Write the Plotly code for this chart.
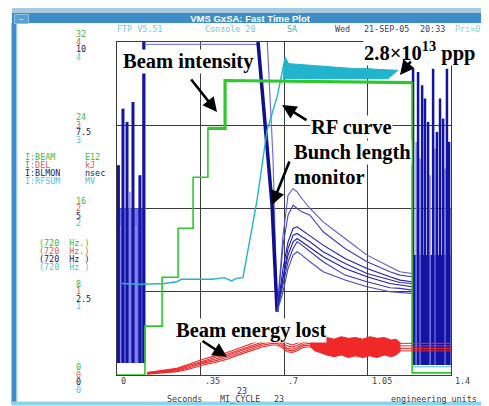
import plotly.graph_objects as go

W, H = 489, 406
OFF = 8  # page body margin offset

def px(x):
    return (x - OFF) / W

def py(y):
    return 1 - (y - OFF) / H

# ---------------- data ----------------
x_ticks = [0, 0.35, 0.7, 1.05, 1.4]
x_tick_text = ["0", ".35", ".7", "1.05", "1.4"]

beam_ticks = ["0", "8", "16", "24", "32"]
del_ticks = ["0", "1", "2", "3", "4"]
blmon_ticks = ["0", "2.5", "5", "7.5", "10"]
rf_ticks = ["0", "1", "2", "3", "4"]

# I:BEAM (E12)
beam_t = [0.0, 0.117, 0.117, 0.189, 0.189, 0.256, 0.256, 0.319, 0.319, 0.381, 0.381,
          0.453, 0.453, 1.237, 1.237, 1.4]
beam_v = [0.0, 0.0, 4.7, 4.7, 9.4, 9.4, 14.1, 14.1, 19.0, 19.0, 23.7, 23.7, 28.3, 28.1,
          0.2, 0.2]
beam_flat_t = [0.381, 0.453, 0.453, 1.237]
beam_flat_v = [23.7, 23.7, 28.3, 28.1]

# I:RFSUM (MV)
rf_t = [0.02, 0.10, 0.20, 0.25, 0.27, 0.40, 0.45, 0.48, 0.50, 0.528, 0.587, 0.629, 0.671, 0.696, 0.704]
rf_v = [1.10, 1.09, 1.10, 1.12, 1.15, 1.15, 1.17, 1.13, 1.16, 1.17, 2.10, 2.94, 3.34, 3.66, 3.80]
rf_band_t = [0.696, 0.704, 0.72, 0.76, 0.80, 0.85, 0.90, 0.95, 1.00, 1.05, 1.10, 1.15,
             1.178, 1.136, 0.696]
rf_band_v = [3.55, 3.82, 3.74, 3.73, 3.72, 3.71, 3.70, 3.69, 3.68, 3.68, 3.67, 3.66,
             3.66, 3.56, 3.56]
rf_right_t = [1.237, 1.4]
rf_right_v = [0.1, 0.1]

# I:BLMON (nsec)
bl_top_t = [0.117, 0.60]
bl_top_v = [9.93, 9.93]
bl_desc_t = [0.591, 0.62, 0.65, 0.671]
bl_desc_v = [10.0, 7.5, 5.1, 1.9]
bl_desc2_t = [0.630, 0.654, 0.671]
bl_desc2_v = [10.0, 6.5, 1.9]
bl_t = [0.671, 0.696, 0.717, 0.738, 0.755, 0.775, 0.809, 0.864, 0.956, 1.048, 1.144, 1.186, 1.237]
bl_curves = [
    [1.9, 4.2, 5.4, 5.6, 5.5, 5.3, 5.0, 4.6, 4.1, 3.6, 3.25, 3.1, 3.05],
    [1.9, 3.9, 4.8, 5.1, 5.0, 4.9, 4.8, 4.3, 3.8, 3.4, 3.1, 3.0, 2.95],
    [1.9, 3.2, 4.0, 4.4, 4.45, 4.35, 4.2, 3.9, 3.5, 3.2, 2.95, 2.85, 2.8],
    [1.9, 3.0, 3.8, 4.2, 4.25, 4.15, 4.0, 3.7, 3.35, 3.05, 2.85, 2.78, 2.75],
    [1.9, 2.9, 3.6, 4.0, 4.1, 4.0, 3.85, 3.55, 3.2, 2.95, 2.75, 2.7, 2.65],
    [1.9, 2.7, 3.4, 3.8, 4.0, 3.9, 3.7, 3.4, 3.0, 2.8, 2.62, 2.6, 2.55],
    [1.9, 2.5, 3.2, 3.6, 3.7, 3.6, 3.4, 3.1, 2.85, 2.65, 2.5, 2.48, 2.45],
]
bl_curve_colors = ["#5a5ad0", "#4040c0", "#1c1ca8", "#2626b0", "#1c1ca8", "#3434b8", "#4a4ac4"]

left_fill_t = [0.0, 0.0, 0.117, 0.117]
left_fill_v = [0.36, 5.0, 5.0, 0.36]
left_dark_t = [0.006, 0.025, 0.042, 0.067, 0.096, 0.112]
left_dark_v = [6.3, 8.0, 7.6, 8.2, 6.0, 10.0]
left_light_t = [0.013, 0.034, 0.054, 0.080, 0.117]
left_light_v = [4.5, 5.0, 5.5, 4.5, 10.0]
right_fill_t = [1.237, 1.237, 1.4, 1.4]
right_fill_v = [0.3, 3.6, 3.6, 0.3]
right_dark_t = [1.241, 1.262, 1.279, 1.291, 1.304, 1.325, 1.341, 1.354, 1.367, 1.383, 1.392]
right_dark_v = [9.2, 9.1, 8.7, 8.3, 7.6, 9.2, 7.3, 8.3, 7.7, 9.2, 7.0]
right_light_t = [1.254, 1.270, 1.312, 1.333, 1.375, 1.396]
right_light_v = [7.0, 6.5, 6.0, 6.8, 6.2, 5.0]

# I:DEL (kJ)
del_t = [0.126, 0.20, 0.251, 0.30, 0.36, 0.41, 0.461, 0.528, 0.58, 0.612, 0.65, 0.671,
         0.692, 0.713, 0.735, 0.755, 0.78, 0.809]
del_curves = [
    [0.03, 0.06, 0.08, 0.13, 0.19, 0.23, 0.27, 0.34, 0.40, 0.43, 0.45, 0.45, 0.42, 0.38, 0.36, 0.38, 0.42, 0.43],
    [0.025, 0.05, 0.07, 0.115, 0.17, 0.21, 0.25, 0.32, 0.37, 0.40, 0.42, 0.42, 0.39, 0.35, 0.335, 0.355, 0.39, 0.40],
    [0.02, 0.045, 0.06, 0.10, 0.155, 0.19, 0.23, 0.30, 0.35, 0.38, 0.40, 0.40, 0.37, 0.32, 0.31, 0.33, 0.37, 0.38],
    [0.015, 0.035, 0.05, 0.085, 0.14, 0.17, 0.21, 0.28, 0.33, 0.36, 0.38, 0.38, 0.35, 0.30, 0.29, 0.31, 0.35, 0.36],
    [0.01, 0.03, 0.04, 0.07, 0.12, 0.15, 0.19, 0.26, 0.31, 0.34, 0.36, 0.36, 0.33, 0.28, 0.27, 0.29, 0.33, 0.34],
]
del_band_t = [0.809, 0.83, 0.86, 0.88, 0.91, 0.94, 0.97, 1.00, 1.03, 1.06, 1.09, 1.12, 1.15, 1.17, 1.186,
              1.186, 1.17, 1.15, 1.12, 1.09, 1.06, 1.03, 1.00, 0.97, 0.94, 0.91, 0.88, 0.86, 0.83, 0.809]
del_band_v = [0.43, 0.46, 0.43, 0.45, 0.43, 0.46, 0.44, 0.45, 0.43, 0.46, 0.44, 0.45, 0.42, 0.43, 0.39,
              0.28, 0.24, 0.22, 0.24, 0.21, 0.23, 0.21, 0.23, 0.21, 0.24, 0.22, 0.24, 0.26, 0.29, 0.34]
del_flat_t = [1.186, 1.4]
del_flat_levels = [0.38, 0.35, 0.32, 0.29]

# ---------------- figure ----------------
NAVY = "#1414a4"
LAV = "#7070e0"
GREEN = "#2ec82e"
CYAN = "#22b4cc"
RED = "#f02828"


def spikes(ts, vs, base):
    xs, ys = [], []
    for t, v in zip(ts, vs):
        xs += [t, t, None]
        ys += [base, v, None]
    return xs, ys


fig = go.Figure()

fig.add_trace(go.Scatter(x=left_fill_t, y=left_fill_v, fill="toself", mode="none",
                         fillcolor=LAV, yaxis="y"))
xs, ys = spikes(left_light_t, left_light_v, 0.36)
fig.add_trace(go.Scatter(x=xs, y=ys, mode="lines", line=dict(color="#8a8aec", width=1.5)))
xs, ys = spikes(left_dark_t, left_dark_v, 0.36)
fig.add_trace(go.Scatter(x=xs, y=ys, mode="lines", line=dict(color=NAVY, width=3)))
fig.add_trace(go.Scatter(x=right_fill_t, y=right_fill_v, fill="toself", mode="none",
                         fillcolor=NAVY))
xs, ys = spikes(right_light_t, right_light_v, 0.3)
fig.add_trace(go.Scatter(x=xs, y=ys, mode="lines", line=dict(color="#8a8aec", width=1.5)))
xs, ys = spikes(right_dark_t, right_dark_v, 0.3)
fig.add_trace(go.Scatter(x=xs, y=ys, mode="lines", line=dict(color=NAVY, width=2.5)))
fig.add_trace(go.Scatter(x=bl_top_t, y=bl_top_v, mode="lines", line=dict(color="#8080e6", width=1.2)))
fig.add_trace(go.Scatter(x=bl_desc2_t, y=bl_desc2_v, mode="lines", line=dict(color="#7070dc", width=1.2)))
fig.add_trace(go.Scatter(x=bl_desc_t, y=bl_desc_v, mode="lines", line=dict(color="#10108c", width=3.5)))
for vals, col in zip(bl_curves, bl_curve_colors):
    fig.add_trace(go.Scatter(x=bl_t, y=vals, mode="lines", line=dict(color=col, width=1.1)))

fig.add_trace(go.Scatter(x=rf_t, y=rf_v, mode="lines", line=dict(color=CYAN, width=1.4), yaxis="y2"))
fig.add_trace(go.Scatter(x=rf_band_t, y=rf_band_v, fill="toself", mode="lines",
                         line=dict(color=CYAN, width=1), fillcolor=CYAN, yaxis="y2"))
fig.add_trace(go.Scatter(x=rf_right_t, y=rf_right_v, mode="lines",
                         line=dict(color="#7fd8ea", width=1.5), yaxis="y2"))

fig.add_trace(go.Scatter(x=beam_t, y=beam_v, mode="lines", line=dict(color=GREEN, width=1.6),
                         yaxis="y3"))
fig.add_trace(go.Scatter(x=beam_flat_t, y=beam_flat_v, mode="lines", line=dict(color=GREEN, width=3.2),
                         yaxis="y3"))

for vals in del_curves:
    fig.add_trace(go.Scatter(x=del_t, y=vals, mode="lines", line=dict(color=RED, width=1.1),
                             yaxis="y4"))
fig.add_trace(go.Scatter(x=del_band_t, y=del_band_v, fill="toself", mode="lines",
                         line=dict(color=RED, width=1), fillcolor=RED, yaxis="y4"))
for lv in del_flat_levels:
    fig.add_trace(go.Scatter(x=del_flat_t, y=[lv, lv], mode="lines",
                             line=dict(color=RED, width=1), yaxis="y4"))

dom_x = [px(117), px(451)]
dom_y = [py(375), py(42)]
GRID = "#3c3c3c"

fig.update_layout(
    width=W, height=H, margin=dict(l=0, r=0, t=0, b=0),
    paper_bgcolor="white", plot_bgcolor="white", showlegend=False,
    xaxis=dict(domain=dom_x, range=[0, 1.4], tickvals=x_ticks, showticklabels=False,
               showgrid=True, gridcolor=GRID, gridwidth=1, zeroline=False,
               showline=True, mirror=True, linecolor=GRID, linewidth=1, ticks=""),
    yaxis=dict(domain=dom_y, range=[0, 10], tickvals=[0, 2.5, 5, 7.5, 10], showticklabels=False,
               showgrid=True, gridcolor=GRID, gridwidth=1, zeroline=False,
               showline=True, mirror=True, linecolor=GRID, linewidth=1, ticks=""),
    yaxis2=dict(overlaying="y", range=[0, 4], visible=False),
    yaxis3=dict(overlaying="y", range=[0, 32], visible=False),
    yaxis4=dict(overlaying="y", range=[0, 4], visible=False),
)

MONO = "DejaVu Sans Mono"
FS = 8.4
ann = []

# window chrome (title bar drawn as boxed annotations)
ann.append(dict(x=px(12), y=py(8), xref="paper", yref="paper", xanchor="left", yanchor="top",
                width=477, height=5, bgcolor="#a9c9e0", borderpad=0, borderwidth=0,
                text="&nbsp;", showarrow=False, font=dict(size=4, color="#a9c9e0")))
ann.append(dict(x=px(12), y=py(13), xref="paper", yref="paper", xanchor="left", yanchor="top",
                width=477, height=10, bgcolor="#3f8dc6", borderpad=0, borderwidth=0,
                align="center", text="<b>VMS GxSA: Fast Time Plot</b>", showarrow=False,
                font=dict(family="Liberation Sans", size=9.5, color="white")))
ann.append(dict(x=px(14), y=py(14), xref="paper", yref="paper", xanchor="left", yanchor="top",
                width=13, height=8, bgcolor="#5a9fd0", bordercolor="#8cc0e4", borderwidth=1,
                borderpad=0, text="−", showarrow=False,
                font=dict(family="Liberation Sans", size=8, color="white")))

label_sets = [(beam_ticks, "#3cbc3c", 8), (del_ticks, "#e05a5a", 0.5),
              (blmon_ticks, "#20205e", -7), (rf_ticks, "#5cc0d8", -14.5)]
for ticks, col, shift in label_sets:
    for i, txt in enumerate(ticks):
        ann.append(dict(x=px(74), xref="paper", xanchor="left", y=i * 2.5, yref="y",
                        yanchor="middle", yshift=shift, text=txt, showarrow=False,
                        font=dict(family=MONO, size=FS, color=col)))

legend_rows = [("I:BEAM", "E12", "#3cbc3c", 157), ("I:DEL", "kJ", "#e05a5a", 165),
               ("I:BLMON", "nsec", "#20205e", 173), ("I:RFSUM", "MV", "#5cc0d8", 181)]
for name, unit, col, yy in legend_rows:
    ann.append(dict(x=px(23), y=py(yy), xref="paper", yref="paper", xanchor="left",
                    yanchor="middle", text=name, showarrow=False,
                    font=dict(family=MONO, size=FS, color=col)))
    ann.append(dict(x=px(83), y=py(yy), xref="paper", yref="paper", xanchor="left",
                    yanchor="middle", text=unit, showarrow=False,
                    font=dict(family=MONO, size=FS, color=col)))
rate_rows = [("(720  Hz.)", "#3cbc3c", 243), ("(720  Hz.)", "#e05a5a", 251),
             ("(720  Hz )", "#20205e", 259), ("(720  Hz )", "#5cc0d8", 267)]
for txt, col, yy in rate_rows:
    ann.append(dict(x=px(37), y=py(yy), xref="paper", yref="paper", xanchor="left",
                    yanchor="middle", text=txt.replace(" ", "&nbsp;"), showarrow=False,
                    font=dict(family=MONO, size=FS, color=col)))

header = [("FTP V5.51", 115, "#78c8d8"), ("Console 20", 203, "#78c8d8"),
          ("SA", 285, "#40b0d0"), ("Wed", 333, "#404060"), ("21-SEP-05", 362, "#404060"),
          ("20:33", 418, "#404060"), ("Pri=0", 453, "#8ad0e0")]
for txt, xx, col in header:
    ann.append(dict(x=px(xx), y=py(29), xref="paper", yref="paper", xanchor="left",
                    yanchor="middle", text=txt.replace(" ", "&nbsp;"), showarrow=False,
                    font=dict(family=MONO, size=FS, color=col)))

for tv, tt in zip(x_ticks, x_tick_text):
    ann.append(dict(x=tv, xref="x", xanchor="left", xshift=2, y=py(381), yref="paper",
                    yanchor="middle", text=tt, showarrow=False,
                    font=dict(family=MONO, size=FS, color="#404040")))

footer = [("23", 235, 391, "#3030a0"), ("Seconds", 165, 399, "#404040"),
          ("MI_CYCLE", 218, 399, "#404040"), ("23", 272, 399, "#404040"),
          ("engineering units", 389, 399, "#404040")]
for txt, xx, yy, col in footer:
    ann.append(dict(x=px(xx), y=py(yy), xref="paper", yref="paper", xanchor="left",
                    yanchor="middle", text=txt, showarrow=False,
                    font=dict(family=MONO, size=FS, color=col)))

SERIF = "Liberation Serif"
callouts = [("<b>Beam intensity</b>", 122, 62), ("<b>2.8×10<sup>13</sup> ppp</b>", 363, 51),
            ("<b>RF curve</b>", 310, 127), ("<b>Bunch length</b>", 293, 152),
            ("<b>monitor</b>", 293, 177), ("<b>Beam energy lost</b>", 175, 330)]
for txt, xx, yy in callouts:
    ann.append(dict(x=px(xx), y=py(yy), xref="paper", yref="paper", xanchor="left",
                    yanchor="middle", text=txt, showarrow=False, bgcolor="white", borderpad=0,
                    font=dict(family=SERIF, size=20.5, color="black")))

arrows = [((217, 112), (190, 78)), ((282, 105), (308, 121)), ((272, 205), (290, 160)),
          ((400, 75), (412, 60)), ((227, 357), (201, 340))]
for (hx, hy), (tx, ty) in arrows:
    ann.append(dict(x=px(hx), y=py(hy), xref="paper", yref="paper", ax=tx - hx, ay=ty - hy,
                    text="", showarrow=True, arrowhead=2, arrowsize=1.1, arrowwidth=2.6,
                    arrowcolor="black", standoff=0))

fig.update_layout(annotations=ann)

shapes = [
    dict(type="rect", xref="paper", yref="paper", x0=px(12), x1=px(16), y0=py(404), y1=py(23),
         fillcolor="#3f8dc6", line=dict(color="#3f8dc6", width=1), layer="above"),
    dict(type="line", xref="paper", yref="paper", x0=px(17), x1=px(17), y0=py(402), y1=py(23),
         line=dict(color="#a9cfe6", width=1), layer="above"),
    dict(type="rect", xref="paper", yref="paper", x0=px(12), x1=px(489), y0=py(405), y1=py(402),
         fillcolor="#8fd3ea", line=dict(color="#8fd3ea", width=1), layer="above"),
]
fig.update_layout(shapes=shapes)

fig.write_html("out.html")
